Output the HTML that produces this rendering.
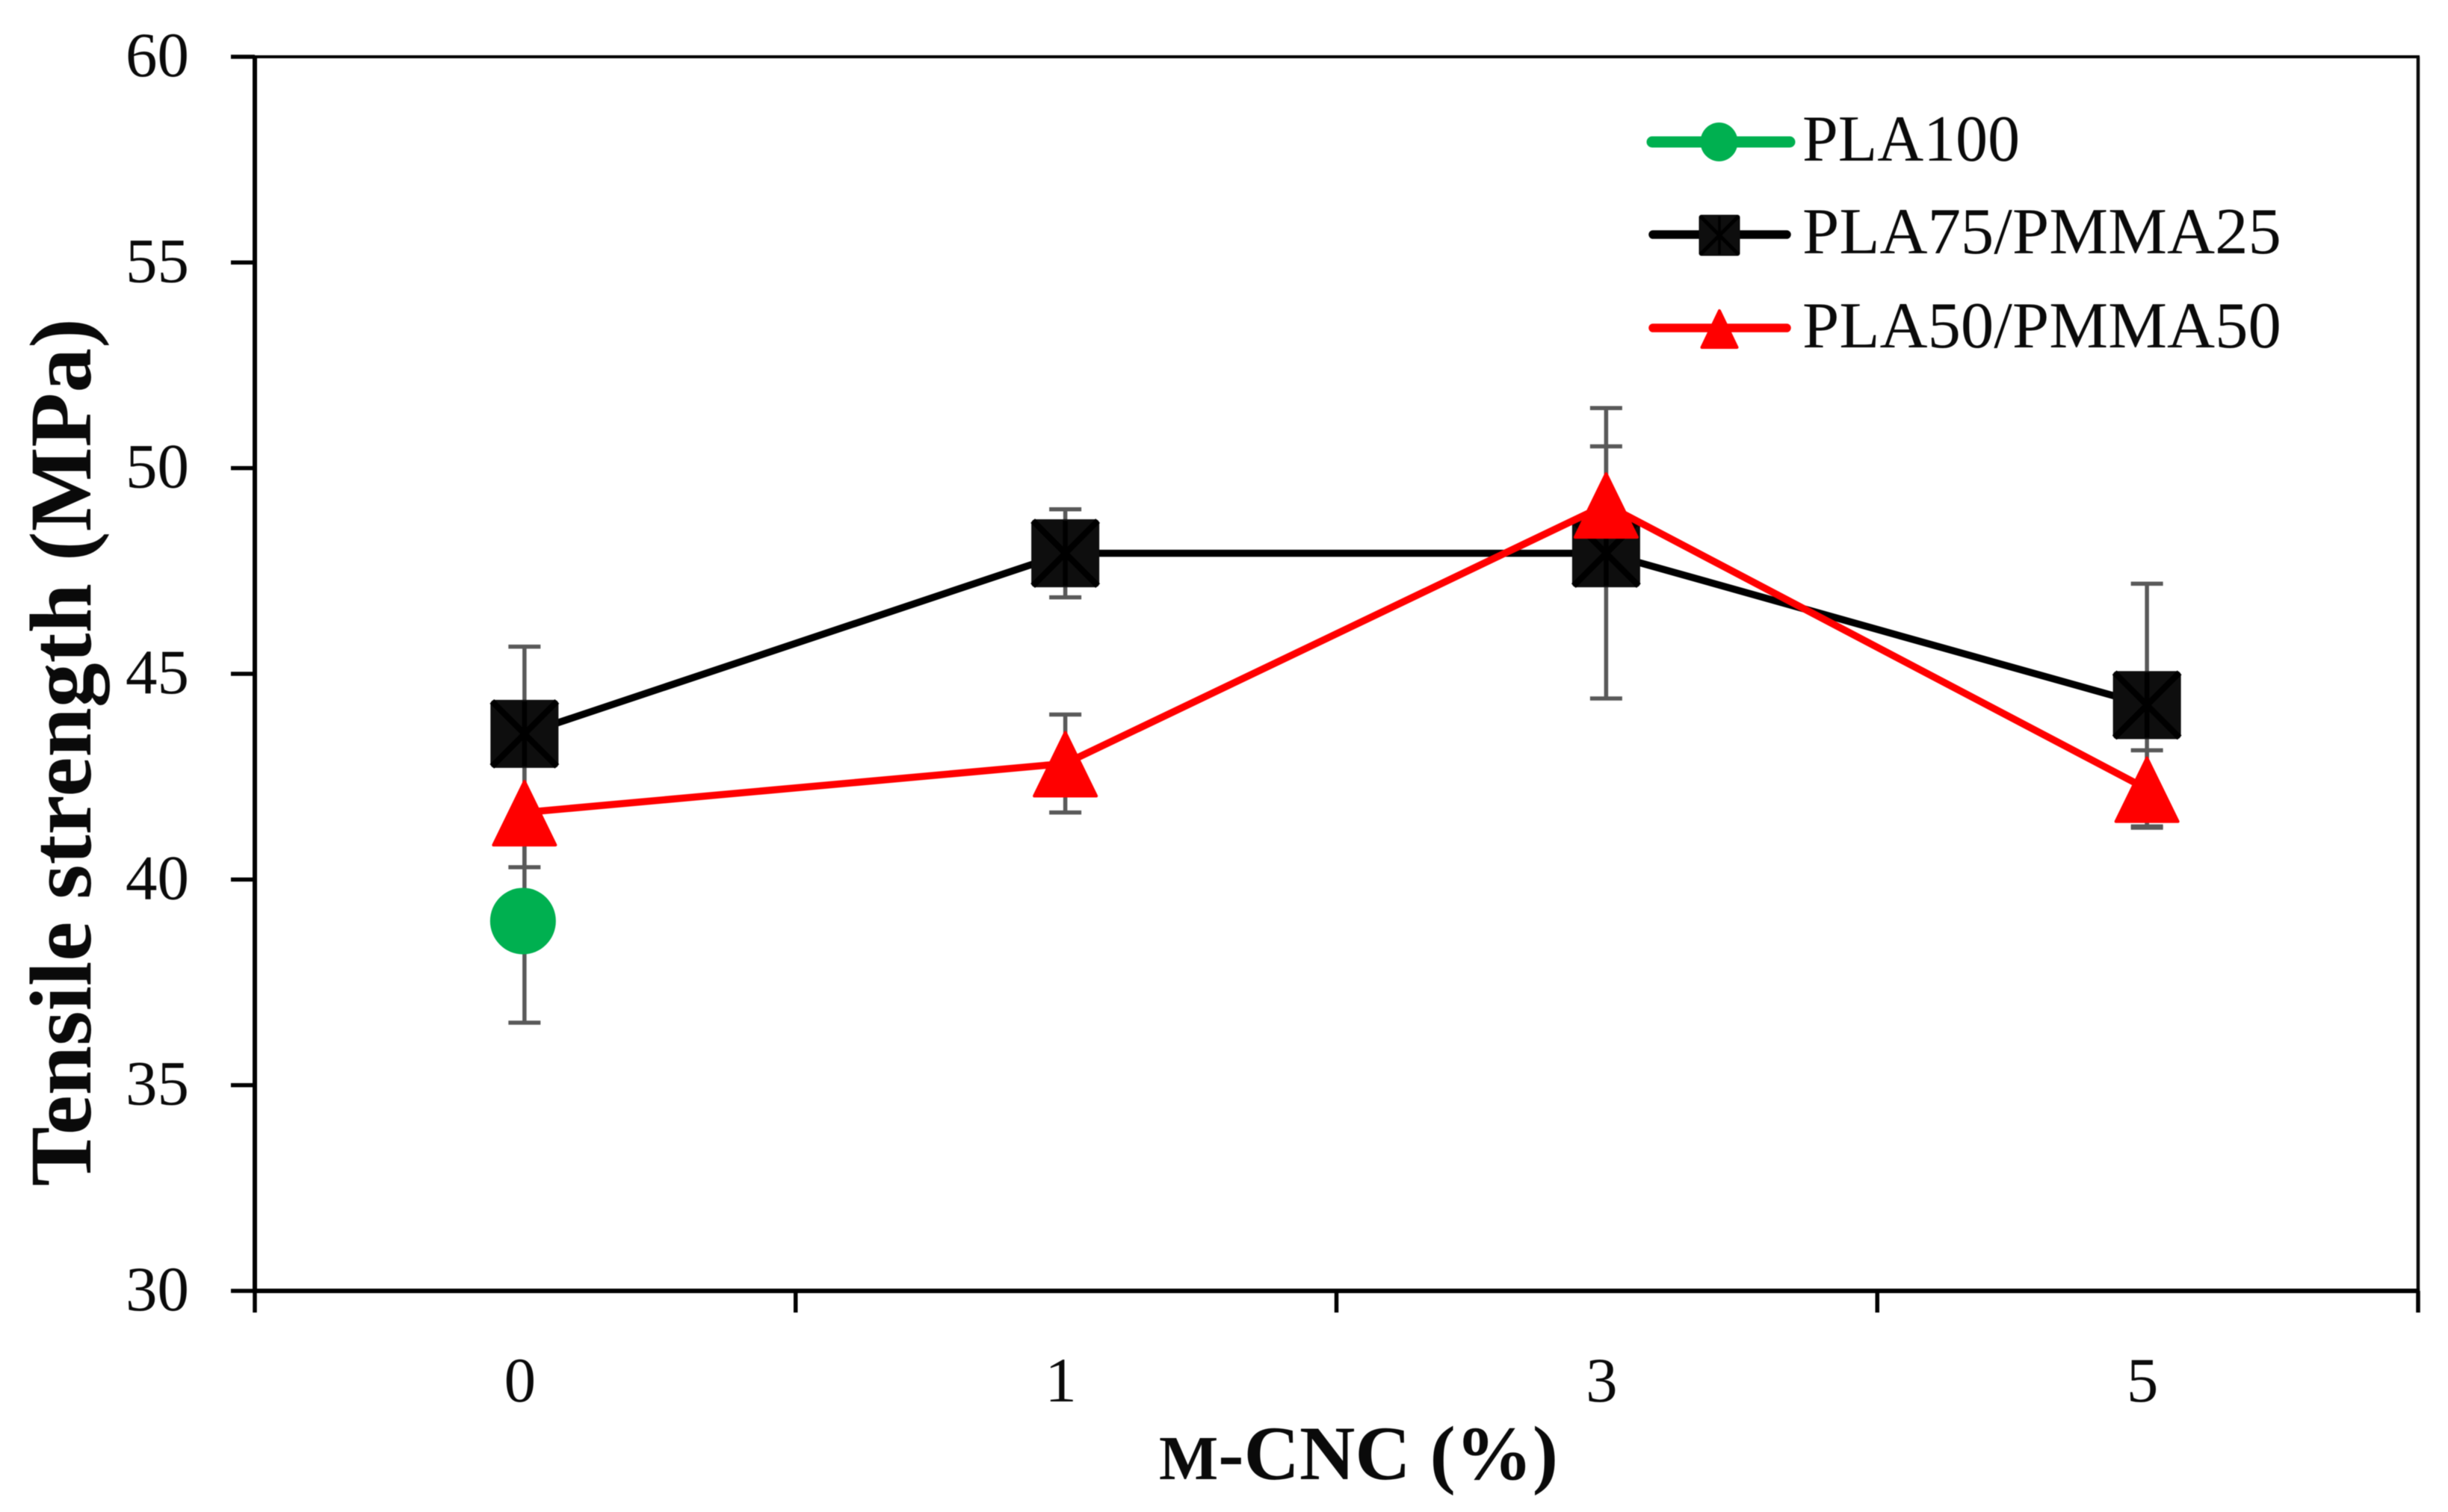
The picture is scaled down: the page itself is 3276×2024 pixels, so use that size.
<!DOCTYPE html>
<html lang="en">
<head>
<meta charset="utf-8">
<title>Tensile strength chart</title>
<style>
html,body{margin:0;padding:0;background:#fff;width:3276px;height:2024px;overflow:hidden}
svg{display:block;font-family:"Liberation Serif",serif;filter:blur(0.6px)}
</style>
</head>
<body>
<svg id="chart" xmlns="http://www.w3.org/2000/svg" width="3276" height="2024" viewBox="0 0 3276 2024">
  <rect x="0" y="0" width="3276" height="2024" fill="#ffffff"/>
  <text transform="translate(121,1588) rotate(-90)" font-size="118" font-weight="700" fill="#0a0a0a" textLength="1162" lengthAdjust="spacingAndGlyphs">Tensile strength (MPa)</text>
  <text x="1551" y="1980" font-weight="700" fill="#0a0a0a" font-size="103"><tspan font-size="84">M</tspan>-CNC (%)</text>
  <g id="axes"></g>
  <g id="errors"></g>
  <g id="series"></g>
  <g id="legend"></g>
</svg>
<script>
const categories = ['0', '1', '3', '5'];
const yTicks = [30, 35, 40, 45, 50, 55, 60];
const pla100Values = [38.99];
const pla100Errors = [2.47];
const pla75Values = [43.54, 47.93, 47.93, 44.24];
const pla75Errors = [2.12, 1.07, 3.53, 2.95];
const pla50Values = [41.63, 42.82, 49.11, 42.2];
const pla50Errors = [1.33, 1.19, 1.42, 0.94];
const legendLabels = ['PLA100', 'PLA75/PMMA25', 'PLA50/PMMA50'];

const NS = 'http://www.w3.org/2000/svg';
const plot = { left: 341, right: 3236, top: 76, bottom: 1728 };
const yMin = 30;
const yMax = 60;
function yScale(v) {
  return plot.bottom - (v - yMin) / (yMax - yMin) * (plot.bottom - plot.top);
}
function bandWidth() {
  return (plot.right - plot.left) / categories.length;
}
function xScale(i) {
  return plot.left + (i + 0.5) * bandWidth() - 1;
}
function add(parent, tag) {
  const el = document.createElementNS(NS, tag);
  parent.appendChild(el);
  return el;
}
function line(parent, x1, y1, x2, y2, stroke, width, cap) {
  const el = add(parent, 'line');
  el.setAttribute('x1', x1);
  el.setAttribute('y1', y1);
  el.setAttribute('x2', x2);
  el.setAttribute('y2', y2);
  el.setAttribute('stroke', stroke);
  el.setAttribute('stroke-width', width);
  if (cap) el.setAttribute('stroke-linecap', cap);
  return el;
}
function squareMarker(parent, cx, cy, size) {
  const g = add(parent, 'g');
  const r = add(g, 'rect');
  r.setAttribute('x', cx - size / 2);
  r.setAttribute('y', cy - size / 2);
  r.setAttribute('width', size);
  r.setAttribute('height', size);
  r.setAttribute('rx', size * 0.06);
  r.setAttribute('fill', '#0e0e0e');
  const h = size / 2 - 2;
  line(g, cx - h, cy - h, cx + h, cy + h, '#000', size * 0.09);
  line(g, cx - h, cy + h, cx + h, cy - h, '#000', size * 0.09);
  line(g, cx, cy - h, cx, cy + h, '#000', size * 0.07);
  return g;
}
function triangleMarker(parent, cx, cy, w, h) {
  const p = add(parent, 'polygon');
  const s = 4;
  p.setAttribute('points', (cx) + ',' + (cy - h / 2 + s) + ' ' + (cx + w / 2 - s) + ',' + (cy + h / 2 - s / 2) + ' ' + (cx - w / 2 + s) + ',' + (cy + h / 2 - s / 2));
  p.setAttribute('fill', '#ff0000');
  p.setAttribute('stroke', '#ff0000');
  p.setAttribute('stroke-width', s);
  p.setAttribute('stroke-linejoin', 'round');
  return p;
}
function circleMarker(parent, cx, cy, w, h) {
  const c = add(parent, 'ellipse');
  c.setAttribute('cx', cx);
  c.setAttribute('cy', cy);
  c.setAttribute('rx', w / 2);
  c.setAttribute('ry', h / 2);
  c.setAttribute('fill', '#00b050');
  return c;
}

const axes = document.getElementById('axes');
const errorsLayer = document.getElementById('errors');
const seriesLayer = document.getElementById('series');
const legendLayer = document.getElementById('legend');

const topBorder = line(axes, plot.left, plot.top, plot.right + 2, plot.top, '#000', 4);


const rightBorder = line(axes, plot.right, plot.top, plot.right, plot.bottom, '#0a0a0a', 4.5);


const yAxisLine = line(axes, plot.left, plot.top - 2, plot.left, plot.bottom, '#000', 6);


const xAxisLine = line(axes, plot.left - 3, plot.bottom, plot.right + 2, plot.bottom, '#000', 6);



yTicks.forEach(function (v) {
  const y = yScale(v);
  const tick = line(axes, plot.left - 32, y, plot.left, y, '#000', 5.5);
  
  
  const label = add(axes, 'text');
  
  
  label.setAttribute('x', 253);
  label.setAttribute('y', y + 26);
  label.setAttribute('text-anchor', 'end');
  label.setAttribute('font-size', 85);
  label.setAttribute('fill', '#0a0a0a');
  label.textContent = String(v);
});

for (let i = 0; i <= categories.length; i++) {
  const x = plot.left + i * bandWidth();
  const tick = line(axes, x, plot.bottom, x, plot.bottom + 29, '#000', 5.5);
  
  
}
categories.forEach(function (c, i) {
  const label = add(axes, 'text');
  
  
  label.setAttribute('x', xScale(i) - 6);
  label.setAttribute('y', 1876);
  label.setAttribute('text-anchor', 'middle');
  label.setAttribute('font-size', 85);
  label.setAttribute('fill', '#0a0a0a');
  label.textContent = c;
});

function drawErrors(name, values, errors) {
  values.forEach(function (v, i) {
    const x = xScale(i);
    const hi = yScale(v + errors[i]);
    const lo = yScale(v - errors[i]);
    const g = add(errorsLayer, 'g');
    
    
    line(g, x, hi, x, lo, '#595959', 5.5);
    line(g, x - 21.5, hi, x + 21.5, hi, '#595959', 5.5);
    line(g, x - 21.5, lo, x + 21.5, lo, '#595959', 5.5);
  });
}
drawErrors('pla100', pla100Values, pla100Errors);
drawErrors('pla75', pla75Values, pla75Errors);
drawErrors('pla50', pla50Values, pla50Errors);

function seriesLine(values, stroke, width) {
  const pl = add(seriesLayer, 'polyline');
  pl.setAttribute('points', values.map(function (v, i) { return xScale(i) + ',' + yScale(v); }).join(' '));
  pl.setAttribute('fill', 'none');
  pl.setAttribute('stroke', stroke);
  pl.setAttribute('stroke-width', width);
  return pl;
}

const blackLine = seriesLine(pla75Values, '#000', 9.5);


pla75Values.forEach(function (v, i) {
  const m = squareMarker(seriesLayer, xScale(i), yScale(v), 91);
  
  
});
pla100Values.forEach(function (v, i) {
  const m = circleMarker(seriesLayer, xScale(i) - 2, yScale(v), 88, 89);
  
  
});
const redLine = seriesLine(pla50Values, '#ff0000', 9.5);


pla50Values.forEach(function (v, i) {
  const m = triangleMarker(seriesLayer, xScale(i), yScale(v), 91, 91);
  
  
});

const keyGreen = line(legendLayer, 2211, 190, 2395, 190, '#00b050', 15, 'round');


const keyGreenMarker = circleMarker(legendLayer, 2300.5, 190, 50, 52);


const keyBlack = line(legendLayer, 2212, 314, 2391, 314, '#000', 11.5, 'round');


const keyBlackMarker = squareMarker(legendLayer, 2301, 315, 55);


const keyRed = line(legendLayer, 2212, 439, 2391, 439, '#ff0000', 11.5, 'round');


const keyRedMarker = triangleMarker(legendLayer, 2301, 439.5, 55, 55);



const legendBaselines = [215, 339, 465];
legendLabels.forEach(function (t, i) {
  const label = add(legendLayer, 'text');
  
  
  label.setAttribute('x', 2412);
  label.setAttribute('y', legendBaselines[i]);
  label.setAttribute('font-size', 88);
  label.setAttribute('fill', '#0a0a0a');
  if (t.length < 8) {
    label.setAttribute('textLength', t.length * 48.5);
    label.setAttribute('lengthAdjust', 'spacingAndGlyphs');
  } else {
    label.setAttribute('textLength', t.length * 53.4);
    label.setAttribute('lengthAdjust', 'spacingAndGlyphs');
  }
  label.textContent = t;
});
</script>
</body>
</html>
